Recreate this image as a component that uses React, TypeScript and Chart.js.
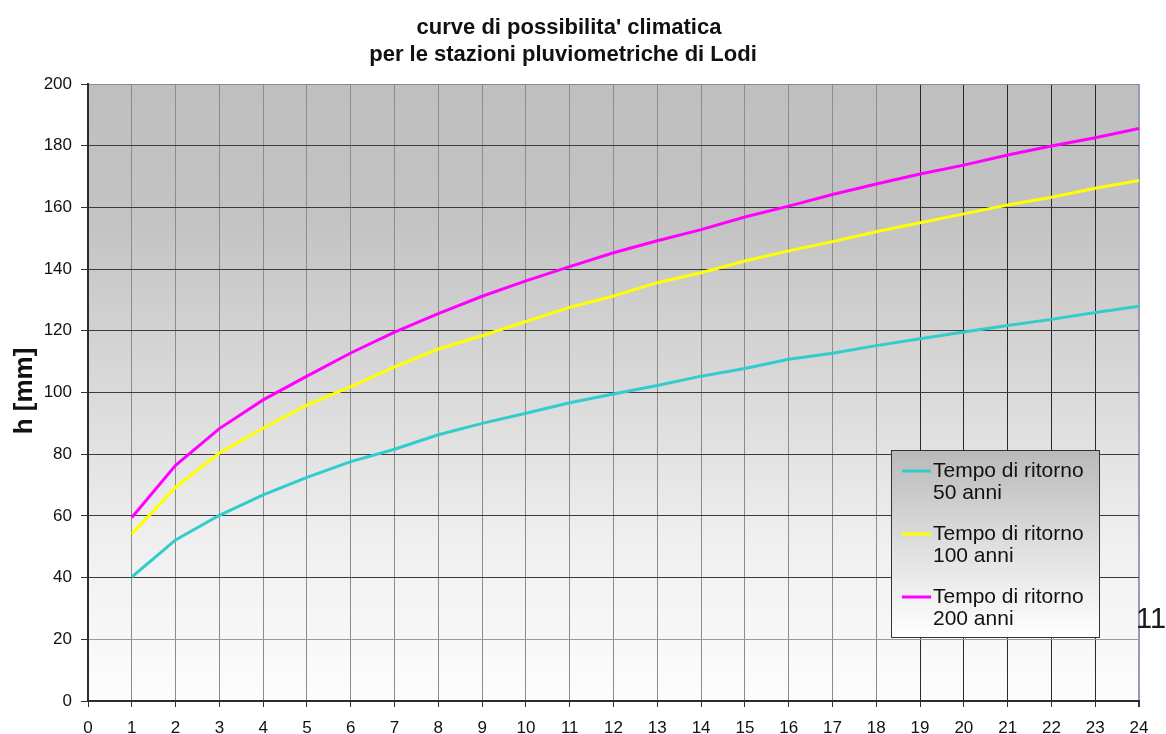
import React, { useEffect, useRef } from "react";
import { Chart, registerables } from "chart.js";

Chart.register(...registerables);

// Durata (ore) e altezze di pioggia h [mm] per i tre tempi di ritorno
const durations = [1, 2, 3, 4, 5, 6, 7, 8, 9, 10, 11, 12, 13, 14, 15, 16, 17, 18, 19, 20, 21, 22, 23, 24];
const h50 = [40.2, 52.2, 60.2, 66.8, 72.5, 77.6, 81.6, 86.3, 90.0, 93.3, 96.7, 99.5, 102.3, 105.3, 107.8, 110.8, 112.7, 115.2, 117.4, 119.6, 121.7, 123.7, 125.9, 128.0];
const h100 = [54.1, 69.3, 80.4, 88.4, 95.9, 101.9, 108.3, 114.1, 118.4, 123.0, 127.6, 131.3, 135.6, 138.8, 142.6, 145.9, 148.9, 152.1, 155.0, 157.9, 160.8, 163.3, 166.2, 168.7];
const h200 = [59.5, 76.4, 88.3, 97.6, 105.3, 112.8, 119.6, 125.6, 131.2, 136.2, 140.8, 145.3, 149.2, 152.8, 156.9, 160.4, 164.2, 167.6, 170.8, 173.7, 177.0, 179.9, 182.6, 185.6];

const seriesNames = ["Tempo di ritorno 50 anni", "Tempo di ritorno 100 anni", "Tempo di ritorno 200 anni"];
const legendLines = [
  ["Tempo di ritorno", "50 anni"],
  ["Tempo di ritorno", "100 anni"],
  ["Tempo di ritorno", "200 anni"],
];
const seriesColors = ["#33CCCC", "#FFFF00", "#FF00FF"];
const titleLines = ["curve di possibilita' climatica", "per le stazioni pluviometriche di Lodi"];
const yAxisTitle = "h [mm]";
const pageNumber = "11";

const FONT = "'Liberation Sans', Arial, Helvetica, sans-serif";

const decorPlugin = {
  id: "decor",
  beforeDraw(chart: any) {
    const { ctx, chartArea: a } = chart;
    ctx.save();
    const g = ctx.createLinearGradient(0, a.top, 0, a.bottom);
    g.addColorStop(0, "#bfbfbf");
    g.addColorStop(0.22, "#c3c3c3");
    g.addColorStop(0.5, "#dadada");
    g.addColorStop(0.75, "#f0f0f0");
    g.addColorStop(1, "#fdfdfd");
    ctx.fillStyle = g;
    ctx.fillRect(a.left, a.top, a.right - a.left, a.bottom - a.top);
    ctx.restore();
  },
  afterDraw(chart: any) {
    const { ctx } = chart;
    ctx.save();
    // titolo
    ctx.fillStyle = "#111";
    ctx.font = `bold 22px ${FONT}`;
    ctx.textAlign = "center";
    ctx.textBaseline = "alphabetic";
    ctx.fillText(titleLines[0], 569, 34);
    ctx.fillText(titleLines[1], 563, 61);

    // titolo asse y
    ctx.save();
    ctx.translate(32, 391);
    ctx.rotate(-Math.PI / 2);
    ctx.font = `bold 26px ${FONT}`;
    ctx.textAlign = "center";
    ctx.textBaseline = "alphabetic";
    ctx.fillText(yAxisTitle, 0, 0);
    ctx.restore();

    // legenda
    const bx = 891, by = 450, bw = 208, bh = 187;
    const lg = ctx.createLinearGradient(0, by, 0, by + bh);
    lg.addColorStop(0, "#b9b9b9");
    lg.addColorStop(0.5, "#dedede");
    lg.addColorStop(1, "#ffffff");
    ctx.fillStyle = lg;
    ctx.fillRect(bx, by, bw, bh);
    ctx.strokeStyle = "#333";
    ctx.lineWidth = 1;
    ctx.strokeRect(bx + 0.5, by + 0.5, bw, bh);

    const rows = [471, 534, 597];
    ctx.font = `21px ${FONT}`;
    ctx.textAlign = "left";
    ctx.textBaseline = "middle";
    chart.data.datasets.forEach((ds: any, i: number) => {
      const y = rows[i];
      ctx.strokeStyle = ds.borderColor;
      ctx.lineWidth = 3;
      ctx.beginPath();
      ctx.moveTo(902, y);
      ctx.lineTo(931, y);
      ctx.stroke();
      ctx.fillStyle = "#111";
      ctx.fillText(legendLines[i][0], 933, y);
      ctx.fillText(legendLines[i][1], 933, y + 22);
    });

    // numero di pagina
    ctx.font = `29px ${FONT}`;
    ctx.fillStyle = "#1a1a1a";
    ctx.textBaseline = "alphabetic";
    ctx.fillText(pageNumber, 1136, 628);
    ctx.restore();
  },
};

export default function App() {
  const ref = useRef<HTMLCanvasElement | null>(null);

  useEffect(() => {
    if (!ref.current) return;
    const mk = (vals: number[]) => durations.map((x, i) => ({ x, y: vals[i] }));
    const chart = new Chart(ref.current, {
      type: "line",
      data: {
        datasets: [h50, h100, h200].map((vals, i) => ({
          label: seriesNames[i],
          data: mk(vals),
          borderColor: seriesColors[i],
          backgroundColor: seriesColors[i],
          borderWidth: 3,
          pointRadius: 0,
          tension: 0,
          fill: false,
        })),
      },
      options: {
        animation: false,
        responsive: false,
        maintainAspectRatio: false,
        layout: { padding: { top: 84, right: 27, bottom: 0, left: 0 } },
        plugins: {
          legend: { display: false },
          title: { display: false },
          tooltip: { enabled: false },
        },
        scales: {
          x: {
            type: "linear",
            min: 0,
            max: 24,
            afterFit: (s: any) => { s.height = 33; },
            ticks: {
              stepSize: 1,
              color: "#111",
              font: { family: FONT, size: 17 },
              padding: 11,
              maxRotation: 0,
              autoSkip: false,
            },
            grid: {
              color: (c: any) => {
                const v = c.tick?.value;
                if (v >= 19 && v <= 23) return "#2a2a2a";
                if (v === 24) return "#9a9ab4";
                return "#8c8c8c";
              },
              lineWidth: (c: any) => (c.tick?.value === 24 ? 2 : 1),
              tickColor: "#333",
              tickLength: 6,
            },
            border: { color: "#2b2b35", width: 2 },
          },
          y: {
            type: "linear",
            min: 0,
            max: 200,
            afterFit: (s: any) => { s.width = 88; },
            ticks: {
              stepSize: 20,
              color: "#111",
              font: { family: FONT, size: 17 },
              padding: 9,
            },
            grid: {
              color: (c: any) => {
                const v = c.tick?.value;
                if (v === 200) return "#8a8a8a";
                if (v === 20) return "#9a9a9a";
                return "#3c3c3c";
              },
              lineWidth: 1,
              tickColor: "#333",
              tickLength: 7,
            },
            border: { color: "#2b2b35", width: 2 },
          },
        },
      },
      plugins: [decorPlugin],
    });
    return () => chart.destroy();
  }, []);

  return (
    <div style={{ position: "fixed", left: 0, top: 0, width: 1166, height: 734, background: "#fff" }}>
      <canvas ref={ref} width={1166} height={734} style={{ width: 1166, height: 734, display: "block" }} />
    </div>
  );
}
